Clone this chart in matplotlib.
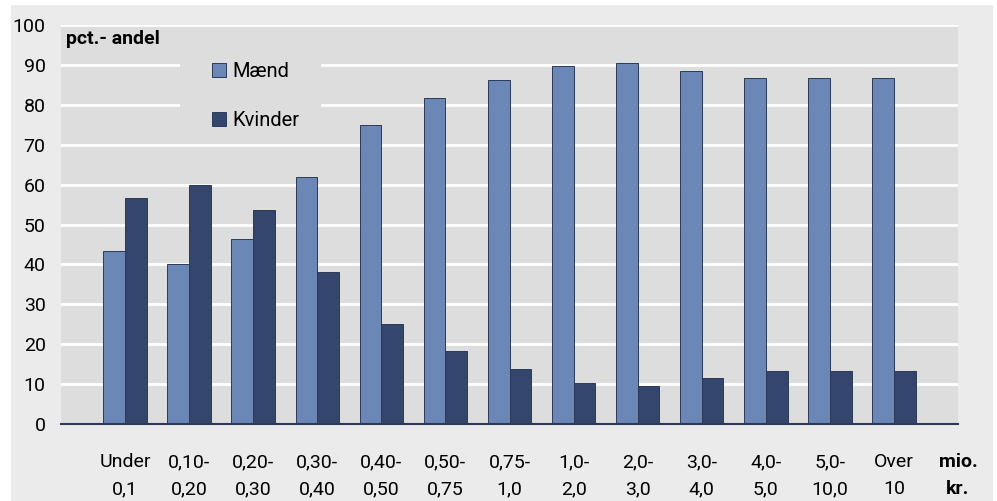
import matplotlib
matplotlib.use("Agg")
import matplotlib.pyplot as plt
import numpy as np
from matplotlib.patches import Rectangle

plt.rcParams['font.family'] = ['Roboto', 'DejaVu Sans']

# data
kategorier = ['Under\n0,1', '0,10-\n0,20', '0,20-\n0,30', '0,30-\n0,40', '0,40-\n0,50',
              '0,50-\n0,75', '0,75-\n1,0', '1,0-\n2,0', '2,0-\n3,0', '3,0-\n4,0',
              '4,0-\n5,0', '5,0-\n10,0', 'Over\n10']
maend = [43.3, 40.2, 46.4, 62.0, 74.9, 81.6, 86.3, 89.8, 90.4, 88.5, 86.7, 86.6, 86.6]
kvinder = [56.7, 59.8, 53.6, 38.0, 25.1, 18.4, 13.7, 10.2, 9.6, 11.5, 13.3, 13.4, 13.4]
yticks = [0, 10, 20, 30, 40, 50, 60, 70, 80, 90, 100]

c_maend = '#6b87b5'
c_kvinder = '#34466b'
c_edge = '#2b3a58'
c_plot = '#dddddd'

W, H = 997, 501
fig = plt.figure(figsize=(W / 100, H / 100), dpi=100, facecolor='white')
bg = Rectangle((11 / W, 0), (993 - 11) / W, (501 - 5) / H,
               transform=fig.transFigure, facecolor='#ebebeb',
               edgecolor='none', zorder=-10)
fig.patches.append(bg)

ax = fig.add_axes([61 / W, (H - 424) / H, (958 - 61) / W, (424 - 25) / H])
ax.set_facecolor(c_plot)

x = np.arange(len(kategorier))
bw = 0.34
ax.bar(x - bw / 2, maend, bw, color=c_maend, edgecolor=c_edge, linewidth=0.7,
       label='Mænd', zorder=3)
ax.bar(x + bw / 2, kvinder, bw, color=c_kvinder, edgecolor=c_edge, linewidth=0.7,
       label='Kvinder', zorder=3)

ax.set_xlim(-1, 13)
ax.set_ylim(0, 100)
ax.set_yticks(yticks)
ax.set_xticks(list(x) + [13])
ax.set_xticklabels(kategorier + ['mio.\nkr.'], linespacing=1.63)
ax.get_xticklabels()[-1].set_fontweight('bold')
ax.tick_params(axis='x', length=0, pad=21, labelsize=14)
ax.tick_params(axis='y', length=0, pad=11, labelsize=14)

ax.grid(axis='y', color='white', linewidth=2, zorder=1)
ax.set_axisbelow(True)
for s in ['top', 'right', 'left']:
    ax.spines[s].set_visible(False)
ax.spines['bottom'].set_color(c_edge)
ax.spines['bottom'].set_linewidth(1.5)
ax.spines['bottom'].set_zorder(4)

ax.text(0.006, 0.988, 'pct.- andel', transform=ax.transAxes, fontsize=14,
        fontweight='bold', va='top', ha='left')

# legend box hides the gridlines behind it
ax.add_patch(Rectangle((0.1327, 0.724), 0.1572, 0.238, transform=ax.transAxes,
                       facecolor=c_plot, edgecolor='none', zorder=2))
leg = ax.legend(loc='upper left', bbox_to_anchor=(0.1683, 0.907), frameon=False,
                fontsize=14.5, handlelength=0.72, handleheight=0.72,
                handletextpad=0.3, labelspacing=1.5, borderpad=0, borderaxespad=0)
for h in leg.legend_handles:
    h.set_edgecolor(c_edge)

fig.savefig('out.png', dpi=100, facecolor=fig.get_facecolor())
